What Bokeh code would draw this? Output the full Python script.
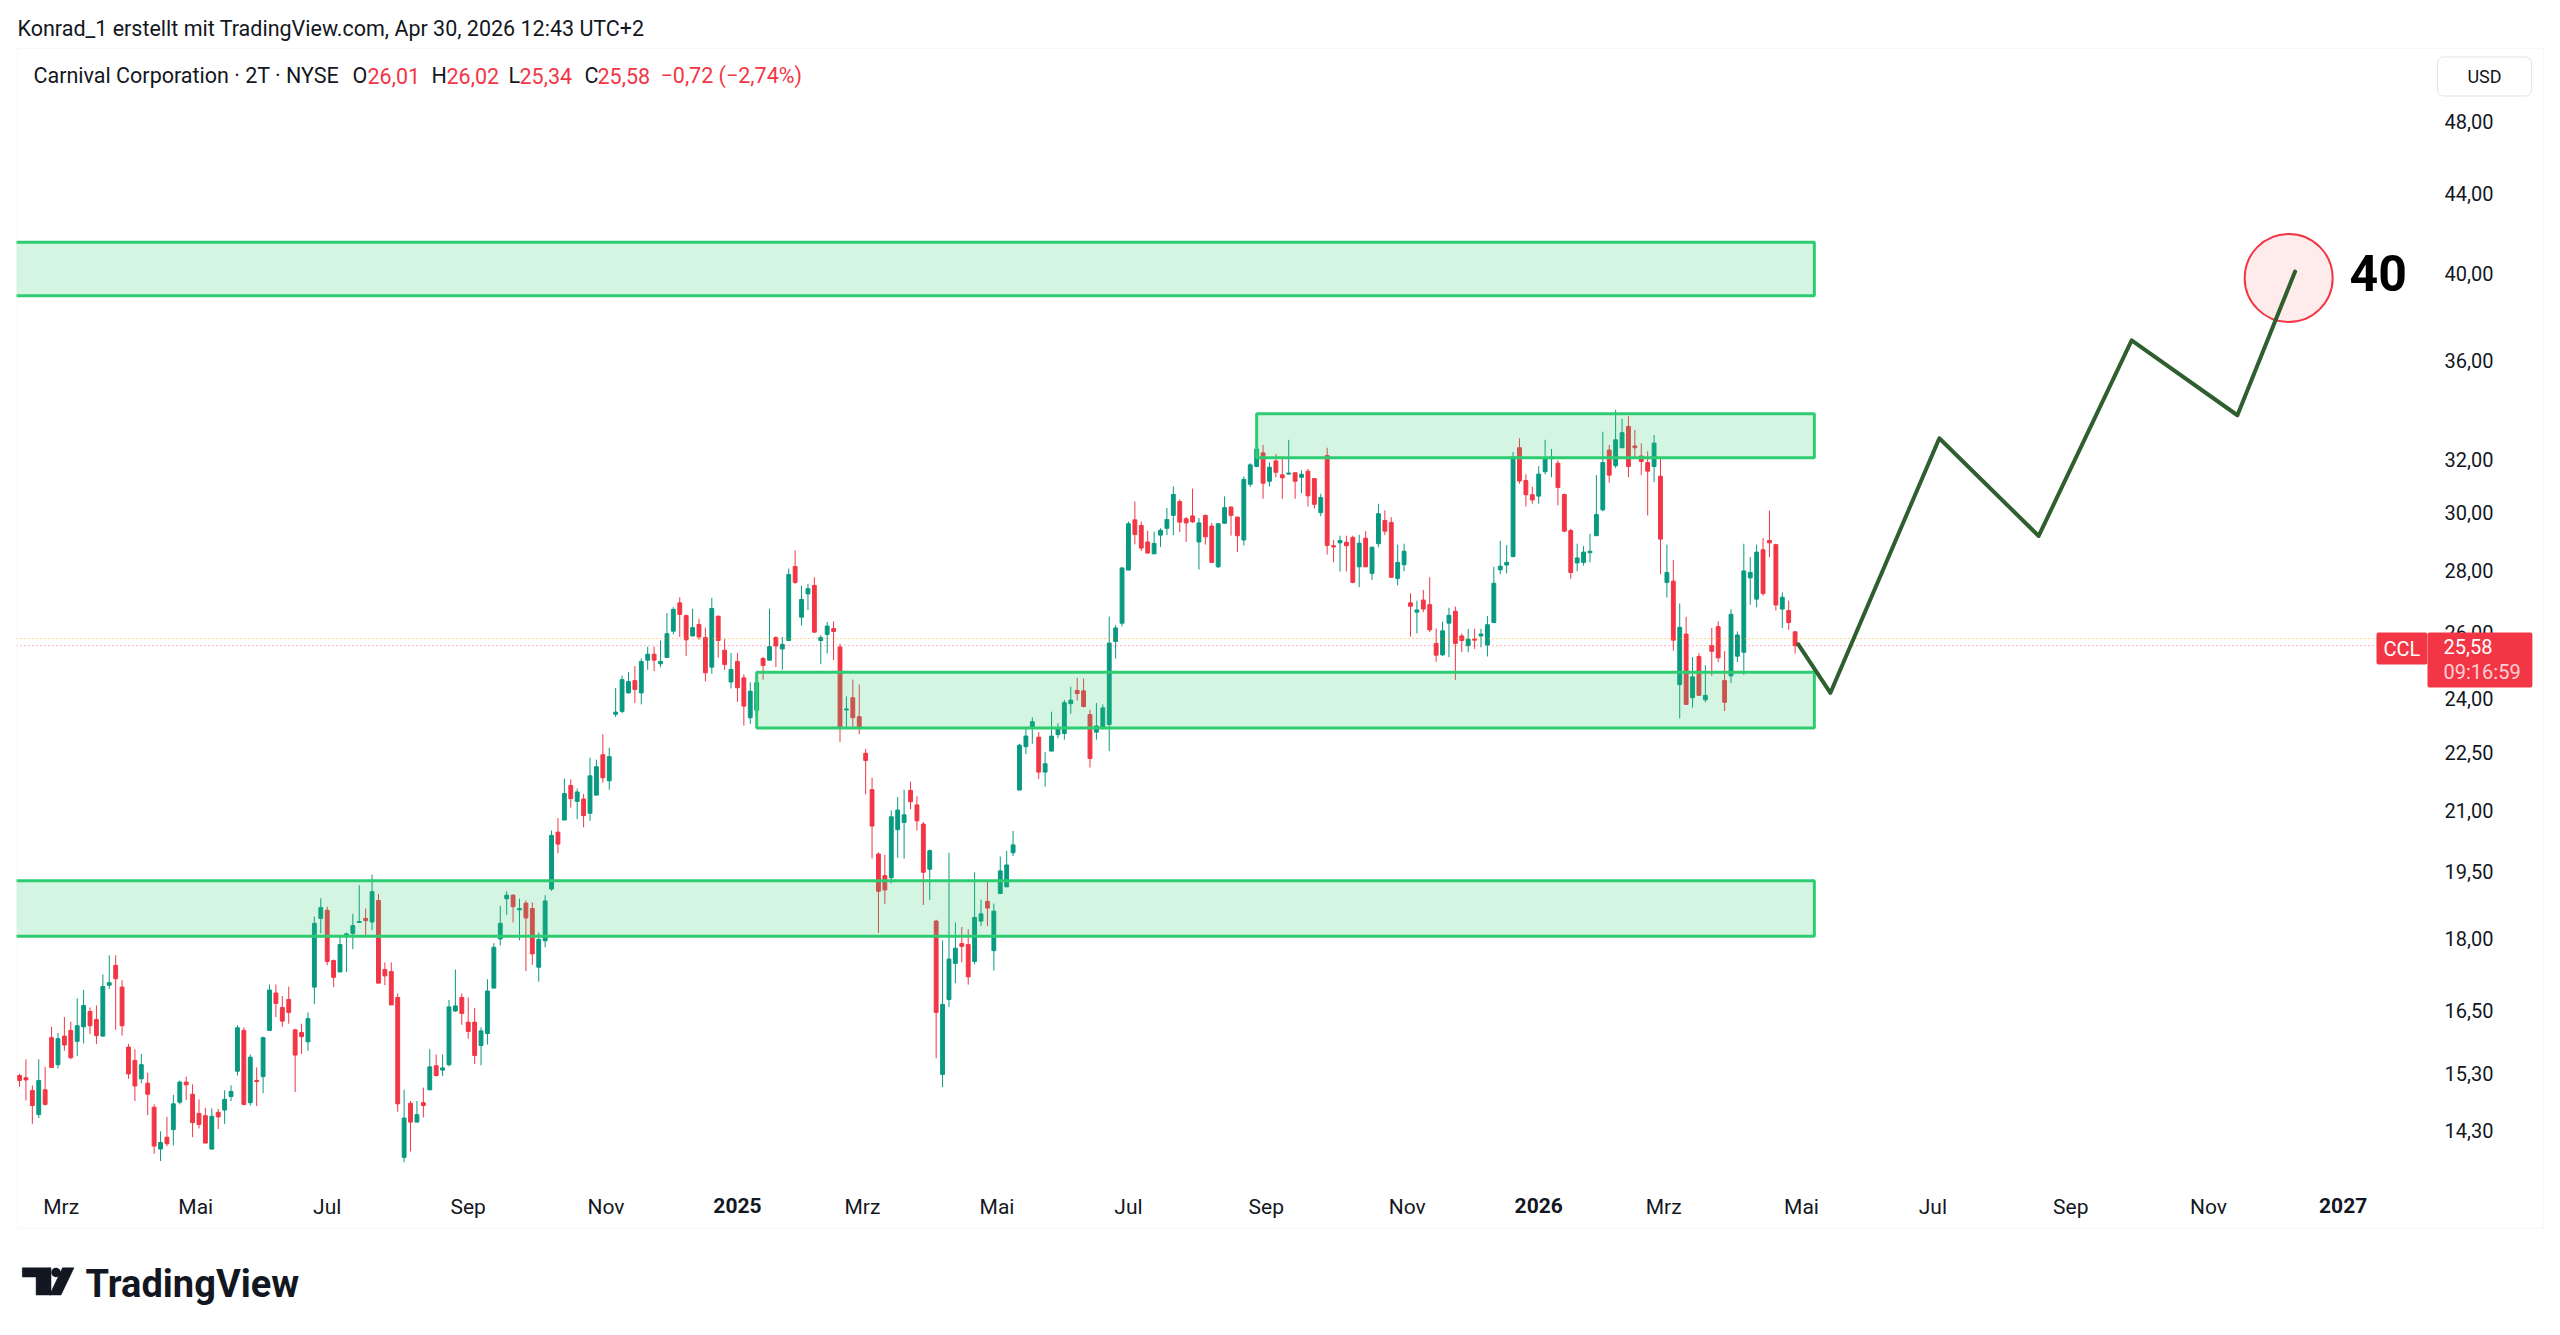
import numpy as np
import pandas as pd
from bokeh.plotting import figure
from bokeh.models import (Range1d, FixedTicker, CustomJSTickFormatter, Label,
                          BoxAnnotation, ColumnDataSource)
from bokeh.embed import file_html
from bokeh.resources import INLINE

# ---------------- data (2-day candles, CCL) ----------------
open_ = [15.27, 15.23, 15.00, 14.57, 15.01, 15.98, 15.47, 16.01, 16.12, 15.91,
         16.19, 16.49, 16.33, 16.01, 17.02, 17.43, 16.98, 15.80, 15.55, 15.21,
         15.13, 14.70, 13.98, 14.18, 14.31, 14.79, 15.15, 14.93, 14.59, 14.55,
         13.98, 14.61, 14.65, 14.89, 15.35, 16.12, 14.78, 15.18, 15.25, 16.12,
         16.86, 16.57, 16.73, 16.13, 16.08, 15.90, 16.98, 18.44, 18.62, 17.53,
         17.29, 18.07, 18.11, 18.35, 18.44, 18.36, 18.84, 17.34, 17.30, 16.77,
         13.84, 14.77, 14.44, 14.78, 15.01, 15.45, 15.37, 15.47, 16.50, 16.77,
         16.28, 16.28, 15.83, 16.06, 16.96, 17.99, 18.88, 18.96, 18.63, 18.78,
         18.66, 17.39, 17.95, 19.10, 20.45, 20.75, 21.63, 21.22, 21.28, 20.92,
         21.38, 22.44, 21.75, 23.56, 23.64, 24.17, 24.53, 24.17, 25.14, 25.32,
         25.03, 25.22, 26.03, 26.93, 26.52, 25.88, 26.24, 25.83, 24.93, 26.50,
         25.44, 24.49, 25.10, 24.61, 23.46, 23.67, 25.19, 25.14, 25.83, 25.48,
         25.74, 28.13, 26.47, 27.22, 27.50, 25.74, 25.93, 26.11, 25.54, 23.68,
         24.03, 23.49, 22.48, 21.52, 19.92, 19.41, 19.36, 20.51, 20.69, 21.50,
         21.13, 20.65, 19.56, 18.38, 15.29, 16.73, 17.47, 17.89, 17.87, 17.51,
         18.38, 18.82, 17.74, 19.00, 19.15, 19.95, 21.51, 22.66, 23.19, 22.92,
         21.98, 22.54, 22.99, 23.02, 23.86, 24.24, 24.23, 23.55, 23.06, 23.17,
         23.27, 25.71, 26.28, 28.01, 29.75, 29.55, 28.97, 28.56, 29.21, 29.45,
         29.91, 30.41, 29.79, 29.89, 28.97, 29.91, 29.53, 28.12, 29.63, 30.21,
         29.85, 29.04, 31.05, 31.72, 32.24, 31.16, 31.93, 31.40, 31.43, 31.48,
         31.31, 31.54, 31.26, 30.01, 32.14, 28.84, 28.94, 28.96, 29.13, 28.12,
         29.10, 27.90, 28.91, 29.73, 29.66, 27.73, 28.19, 26.93, 26.63, 27.02,
         26.87, 25.65, 25.30, 26.28, 26.66, 25.88, 25.58, 25.78, 25.88, 25.60,
         26.30, 28.02, 28.18, 28.47, 32.44, 31.19, 30.66, 30.61, 31.52, 32.01,
         31.84, 30.67, 29.37, 28.25, 28.27, 28.60, 29.19, 30.11, 32.35, 31.75,
         32.44, 33.28, 32.51, 32.12, 31.87, 31.72, 31.35, 27.60, 27.64, 24.41,
         25.94, 24.03, 25.25, 23.97, 25.58, 26.17, 24.53, 24.67, 25.26, 25.38,
         27.75, 27.05, 28.70, 29.02, 28.88, 26.73, 26.68, 26.01]
high = [15.30, 15.57, 15.09, 15.57, 15.43, 16.19, 16.07, 16.38, 16.29, 16.75,
        16.92, 16.57, 16.61, 17.24, 17.64, 17.64, 17.12, 15.86, 15.76, 15.67,
        15.32, 14.75, 14.28, 14.53, 14.92, 15.18, 15.25, 15.11, 14.84, 14.69,
        14.68, 14.67, 15.00, 15.09, 16.22, 16.18, 15.66, 15.42, 16.00, 17.03,
        17.03, 16.80, 16.99, 16.15, 16.25, 16.47, 18.48, 18.89, 18.70, 17.55,
        18.07, 18.13, 18.54, 19.19, 18.66, 19.43, 18.99, 17.49, 17.49, 16.85,
        15.01, 14.81, 14.81, 15.05, 15.76, 15.66, 15.66, 16.72, 17.34, 16.85,
        16.77, 16.56, 16.18, 17.14, 17.90, 18.72, 19.05, 18.98, 18.88, 18.84,
        18.80, 18.13, 18.96, 20.49, 20.80, 21.81, 21.79, 21.55, 21.41, 22.36,
        22.31, 23.00, 22.63, 24.31, 24.68, 24.78, 24.96, 25.19, 25.55, 25.55,
        25.74, 26.60, 26.79, 27.11, 26.56, 26.74, 26.42, 26.14, 27.09, 26.52,
        25.78, 25.36, 25.36, 24.71, 24.48, 24.59, 25.24, 26.74, 25.87, 25.85,
        28.06, 28.68, 27.49, 27.55, 27.77, 25.90, 26.32, 26.34, 25.64, 24.07,
        24.56, 24.42, 22.60, 21.83, 19.96, 19.90, 20.99, 21.33, 21.52, 21.73,
        21.35, 20.70, 20.03, 18.41, 17.96, 19.95, 18.35, 18.25, 18.20, 19.49,
        18.86, 19.30, 18.77, 19.86, 20.00, 20.48, 22.74, 23.20, 23.47, 23.06,
        22.52, 23.63, 23.31, 23.97, 24.35, 24.61, 24.59, 23.68, 23.88, 23.84,
        26.49, 26.22, 28.12, 29.69, 30.41, 29.69, 29.36, 29.33, 29.45, 30.18,
        30.97, 30.49, 29.85, 30.89, 29.82, 29.94, 29.64, 29.64, 30.60, 30.23,
        29.85, 31.34, 31.84, 32.75, 32.55, 31.87, 32.20, 32.01, 32.75, 31.48,
        31.57, 31.63, 31.26, 30.70, 32.44, 29.04, 29.19, 29.19, 29.19, 29.22,
        29.35, 28.79, 30.33, 30.09, 29.85, 28.88, 28.91, 27.24, 27.00, 27.35,
        27.77, 26.11, 26.33, 26.77, 26.81, 25.96, 26.10, 26.10, 26.10, 26.51,
        28.12, 29.01, 28.86, 32.27, 32.81, 31.42, 30.96, 31.73, 32.75, 32.39,
        31.95, 30.70, 29.43, 28.91, 28.83, 29.25, 31.39, 33.07, 32.55, 33.95,
        33.59, 33.69, 33.14, 32.61, 32.30, 32.94, 32.02, 28.88, 28.35, 26.91,
        26.48, 25.23, 25.35, 24.99, 26.13, 26.34, 25.41, 26.72, 26.02, 28.91,
        28.45, 28.88, 29.11, 30.08, 28.91, 27.27, 27.00, 26.02]
low = [15.07, 14.82, 14.41, 14.51, 14.73, 15.41, 15.40, 15.73, 15.57, 15.63,
       15.87, 16.05, 15.86, 16.00, 16.94, 16.13, 16.02, 15.21, 14.81, 15.13,
       14.56, 13.90, 13.78, 14.03, 14.04, 14.75, 14.83, 14.18, 14.33, 14.08,
       13.97, 14.32, 14.41, 14.81, 15.27, 14.73, 14.73, 14.72, 14.95, 16.12,
       16.38, 16.19, 16.25, 14.97, 15.67, 15.73, 16.64, 18.11, 17.43, 16.98,
       17.29, 17.29, 17.77, 18.35, 18.07, 18.18, 17.06, 17.02, 16.62, 14.62,
       13.76, 13.94, 14.44, 14.52, 15.01, 15.25, 15.26, 15.44, 16.48, 16.23,
       15.96, 15.48, 15.46, 15.85, 16.96, 17.85, 18.52, 18.35, 17.96, 17.31,
       17.44, 17.09, 17.81, 19.06, 19.94, 20.75, 21.06, 20.77, 20.57, 20.73,
       21.38, 21.70, 21.52, 23.48, 23.59, 24.15, 23.88, 23.84, 24.85, 24.81,
       24.93, 25.22, 25.93, 25.85, 25.27, 25.87, 25.76, 24.51, 24.73, 25.22,
       24.85, 24.30, 23.91, 23.24, 23.29, 23.65, 24.56, 25.12, 24.93, 24.85,
       25.74, 27.55, 26.21, 26.70, 25.97, 25.02, 25.34, 25.14, 22.79, 23.19,
       23.19, 23.00, 21.40, 19.81, 18.12, 18.76, 19.23, 19.83, 19.81, 21.02,
       20.49, 18.74, 18.85, 15.59, 15.06, 16.58, 17.06, 17.49, 17.03, 17.45,
       18.27, 18.27, 17.32, 19.00, 19.15, 19.87, 21.51, 22.46, 22.74, 21.80,
       21.60, 22.54, 22.89, 22.85, 23.57, 23.95, 23.75, 22.10, 22.85, 23.13,
       22.54, 25.19, 26.18, 28.01, 28.89, 28.66, 28.56, 28.56, 28.80, 29.21,
       29.21, 29.32, 28.97, 29.64, 28.03, 28.88, 28.26, 28.08, 29.61, 29.19,
       28.62, 28.85, 30.95, 31.69, 30.51, 30.97, 31.31, 30.51, 31.42, 30.51,
       30.72, 30.23, 30.15, 29.88, 28.54, 28.27, 27.96, 27.96, 27.57, 27.44,
       28.12, 27.68, 28.79, 29.21, 27.75, 27.50, 27.97, 25.86, 25.96, 26.63,
       26.00, 25.09, 25.26, 25.23, 24.55, 25.38, 25.38, 25.48, 25.53, 25.25,
       26.30, 27.87, 27.90, 28.44, 31.07, 30.23, 30.33, 30.33, 31.42, 31.31,
       30.27, 29.31, 27.72, 27.97, 28.16, 28.27, 29.19, 30.06, 31.11, 31.66,
       32.44, 31.31, 32.01, 31.39, 29.91, 31.13, 27.87, 27.10, 25.43, 23.44,
       23.84, 23.75, 24.10, 23.90, 24.67, 25.08, 23.65, 24.46, 25.08, 24.70,
       26.87, 26.79, 27.16, 28.45, 26.68, 26.13, 26.07, 25.34]
close = [15.18, 15.19, 14.73, 15.18, 14.75, 15.42, 15.96, 15.84, 15.60, 16.21,
         16.61, 16.21, 16.02, 16.99, 17.07, 17.15, 16.21, 15.30, 15.08, 15.47,
         14.93, 14.03, 14.09, 14.07, 14.76, 15.15, 15.10, 14.43, 14.40, 14.08,
         14.54, 14.53, 14.84, 14.98, 16.17, 14.75, 15.61, 15.16, 15.98, 16.92,
         16.65, 16.30, 16.47, 15.65, 16.00, 16.35, 18.33, 18.68, 17.51, 17.18,
         17.87, 18.10, 18.28, 18.37, 18.39, 19.04, 17.06, 17.21, 16.62, 14.76,
         14.51, 14.44, 14.57, 14.73, 15.43, 15.27, 15.41, 16.58, 16.60, 16.45,
         16.10, 15.64, 16.11, 16.90, 17.81, 18.33, 18.96, 18.70, 18.66, 18.45,
         17.67, 17.98, 18.83, 20.37, 20.16, 21.42, 21.29, 21.46, 20.86, 21.88,
         22.12, 21.83, 22.39, 23.62, 24.56, 24.50, 24.27, 25.10, 25.32, 25.14,
         25.10, 25.95, 26.72, 26.56, 25.76, 26.14, 25.85, 24.76, 26.75, 25.74,
         25.01, 24.86, 24.32, 23.79, 24.22, 24.47, 24.98, 25.55, 25.57, 25.62,
         27.86, 27.60, 27.04, 27.39, 26.00, 25.83, 26.19, 26.02, 23.17, 23.71,
         23.46, 23.18, 22.29, 20.60, 19.05, 19.08, 20.83, 21.00, 20.88, 21.21,
         20.73, 19.49, 20.00, 16.47, 16.63, 17.56, 17.79, 17.83, 17.19, 18.46,
         18.54, 18.67, 18.60, 19.52, 19.66, 20.14, 22.70, 22.95, 23.35, 21.98,
         22.20, 22.95, 23.17, 23.89, 23.96, 24.15, 23.78, 22.34, 23.23, 23.74,
         25.66, 26.13, 28.08, 29.61, 29.23, 28.76, 28.59, 28.92, 29.38, 29.76,
         30.67, 29.67, 29.64, 29.68, 29.64, 29.15, 28.27, 29.61, 30.19, 29.91,
         29.19, 31.23, 31.78, 32.39, 31.09, 31.69, 31.50, 31.29, 31.47, 31.16,
         31.42, 30.62, 30.31, 30.56, 28.85, 28.80, 29.02, 28.84, 27.60, 28.93,
         28.12, 28.79, 29.97, 29.35, 27.77, 28.27, 28.65, 26.82, 26.70, 26.73,
         26.07, 25.29, 26.04, 26.53, 25.65, 25.74, 25.78, 25.75, 25.94, 26.23,
         27.57, 28.14, 28.27, 32.09, 31.17, 30.66, 30.47, 31.43, 32.05, 32.08,
         30.93, 29.35, 27.93, 28.42, 28.62, 28.65, 29.94, 31.87, 31.39, 32.75,
         33.03, 31.72, 32.44, 31.91, 31.54, 32.62, 29.07, 27.93, 25.75, 26.15,
         23.84, 24.64, 24.10, 24.10, 25.41, 25.21, 23.90, 26.56, 25.91, 27.98,
         27.93, 28.62, 27.23, 28.94, 26.86, 27.11, 26.30, 25.58]

last_bar_start = "2026-04-29"
nyse_holidays = ["2023-11-23", "2023-12-25",
                 "2024-01-01", "2024-01-15", "2024-02-19", "2024-03-29", "2024-05-27",
                 "2024-06-19", "2024-07-04", "2024-09-02", "2024-11-28", "2024-12-25",
                 "2025-01-01", "2025-01-09", "2025-01-20", "2025-02-17", "2025-04-18",
                 "2025-05-26", "2025-06-19", "2025-07-04", "2025-09-01", "2025-11-27",
                 "2025-12-25",
                 "2026-01-01", "2026-01-19", "2026-02-16", "2026-04-03", "2026-05-25",
                 "2026-06-19", "2026-07-03", "2026-09-07", "2026-11-26", "2026-12-25",
                 "2027-01-01", "2027-01-18", "2027-02-15"]

tick_months = ["2024-03-01", "2024-05-01", "2024-07-01", "2024-09-01", "2024-11-01",
               "2025-01-01", "2025-03-01", "2025-05-01", "2025-07-01", "2025-09-01",
               "2025-11-01", "2026-01-01", "2026-03-01", "2026-05-01", "2026-07-01",
               "2026-09-01", "2026-11-01", "2027-01-01"]
tick_labels = ["Mrz", "Mai", "Jul", "Sep", "Nov", "2025", "Mrz", "Mai", "Jul", "Sep",
               "Nov", "2026", "Mrz", "Mai", "Jul", "Sep", "Nov", "2027"]
price_ticks = [14.3, 15.3, 16.5, 18.0, 19.5, 21.0, 22.5, 24.0, 26.0, 28.0, 30.0,
               32.0, 36.0, 40.0, 44.0, 48.0]

zone_start = ["2023-12-01", "2025-08-27", "2025-01-13", "2023-12-01"]
zone_end = ["2026-05-07", "2026-05-07", "2026-05-07", "2026-05-07"]
zone_top = [41.52, 33.79, 24.78, 19.29]
zone_bottom = [38.93, 32.05, 23.17, 18.05]

path_dates = ["2026-04-30", "2026-05-14", "2026-07-06", "2026-08-18",
              "2026-09-29", "2026-11-13", "2026-12-10"]
path_prices = [25.62, 24.17, 32.81, 29.18, 36.90, 33.73, 40.08]
target_date = ["2026-12-08"]
target_price = [39.77]
target_text_date = "2027-01-06"
target_text = "40"

last_price = 25.58
ext_price = 25.80
countdown = "09:16:59"

# ---------------- trading-day time scale ----------------
tdays = pd.bdate_range("2023-11-01", "2027-03-31", freq="C", holidays=nyse_holidays)
N = len(close)
k_last = tdays.get_loc(pd.Timestamp(last_bar_start))
k_first = k_last - 2 * (N - 1)


def xpos(d):
    k = tdays.searchsorted(pd.Timestamp(d))
    return (k - k_first) / 2.0


x = np.arange(N)
o = np.array(open_); c = np.array(close); h = np.array(high); l = np.array(low)
GREEN, RED = "#089981", "#f23645"
col = np.where(c >= o, GREEN, RED)
src = ColumnDataSource(dict(x=x, o=o, c=c, h=h, l=l, top=np.maximum(o, c),
                            bot=np.minimum(o, c), col=col))

# ---------------- geometry ----------------
W, H = 2560, 1335
PL, PR, PT, PB = 16, 2426, 49, 1182          # price pane (canvas px)
FL, FR, FT, FB = 16, W, 0, H                 # drawing frame (canvas px)
x0p, x1p = -0.47, 375.5                      # bar-index range of the price pane
y0p, y1p = 13.43, 52.32                      # price range of the price pane
dx = (x1p - x0p) / (PR - PL)
ly0, ly1 = np.log(y0p), np.log(y1p)
dl = (ly1 - ly0) / (PB - PT)
x_range = Range1d(x0p, x1p + (FR - PR) * dx)
y_range = Range1d(float(np.exp(ly0 - (FB - PB) * dl)), float(np.exp(ly1 + (PT - FT) * dl)))

FONT = "Roboto"
TXT = "#131722"

p = figure(width=W, height=H, output_backend="svg", toolbar_location=None,
           x_range=x_range, y_range=y_range,
           y_axis_type="log", y_axis_location="right",
           min_border_left=FL, min_border_right=0, min_border_top=0, min_border_bottom=0,
           background_fill_color="white", border_fill_color="white",
           outline_line_color=None)
p.title.visible = False
p.grid.visible = False

# axes placed at the edges of the price pane
tick_pos = [xpos(m) for m in tick_months]
axis_labs = ["" if t.isdigit() else t for t in tick_labels]
p.xaxis.ticker = FixedTicker(ticks=tick_pos)
p.xaxis.formatter = CustomJSTickFormatter(
    args=dict(pos=tick_pos, labs=axis_labs),
    code="const i = pos.findIndex(v => Math.abs(v - tick) < 1e-6); return i < 0 ? '' : labs[i];")
p.yaxis.ticker = FixedTicker(ticks=price_ticks)
p.yaxis.formatter = CustomJSTickFormatter(code="return tick.toFixed(2).replace('.', ',');")
p.xaxis.fixed_location = y0p
p.yaxis.fixed_location = x1p
for ax in (p.xaxis, p.yaxis):
    ax.axis_line_color = None
    ax.major_tick_line_color = None
    ax.minor_tick_line_color = None
    ax.major_tick_out = 0
    ax.major_tick_in = 0
    ax.minor_tick_out = 0
    ax.major_label_text_font = FONT
    ax.major_label_text_color = TXT
p.xaxis.major_label_text_font_size = "21px"
p.yaxis.major_label_text_font_size = "20px"
p.xaxis.major_label_standoff = 12
p.yaxis.major_label_standoff = 18


def scr(cx, cy):
    return cx - FL, FB - cy


def to_data(cx, cy):
    return x0p + (cx - PL) * dx, float(np.exp(ly1 - (cy - PT) * dl))


# year labels in bold
for t, pos in zip(tick_labels, tick_pos):
    if t.isdigit():
        p.add_layout(Label(x=pos, y=scr(0, 1205)[1], x_units="data", y_units="screen", text=t,
                           text_font=FONT, text_font_size="21px", text_font_style="bold",
                           text_color=TXT, text_align="center", text_baseline="middle"))

# candles
p.segment(x0="x", y0="h", x1="x", y1="l", source=src, line_color="col", line_width=1)
p.vbar(x="x", width=0.6, top="top", bottom="bot", source=src,
       fill_color="col", line_color="col", line_width=1)

# zones
p.quad(left=[xpos(d) for d in zone_start], right=[xpos(d) for d in zone_end],
       top=zone_top, bottom=zone_bottom, fill_color="#2ecc71", fill_alpha=0.2,
       line_color="#2ecc71", line_width=3)

# price lines across the price pane
p.line(x=[x0p, x1p], y=[ext_price, ext_price], line_color="#ff9800",
       line_dash="1 3", line_width=1, line_alpha=0.9)
p.line(x=[x0p, x1p], y=[last_price, last_price], line_color=RED,
       line_dash="1 3", line_width=1, line_alpha=0.7)

# forecast path and target
p.scatter(x=[xpos(d) for d in target_date], y=target_price, size=88, marker="circle",
          fill_color=RED, fill_alpha=0.1, line_color=RED, line_width=2)
p.line(x=[xpos(d) for d in path_dates], y=path_prices, line_color="#2f5f2f",
       line_width=4, line_join="round", line_cap="round")
p.add_layout(Label(x=xpos(target_text_date), y=40.0, text=target_text, text_font=FONT,
                   text_font_size="50px", text_font_style="bold", text_color="#000000",
                   text_align="left", text_baseline="middle"))

# header text
hx, hy = scr(17, 28)
p.add_layout(Label(x=hx, y=hy, x_units="screen", y_units="screen",
                   text="Konrad_1 erstellt mit TradingView.com, Apr 30, 2026 12:43 UTC+2",
                   text_font=FONT, text_font_size="21.5px", text_color=TXT,
                   text_baseline="middle", text_align="left"))

# legend line
fmt = lambda v: f"{v:.2f}".replace(".", ",")
chg = close[-1] - close[-2]
pct = chg / close[-2] * 100
sgn = "\u2212" if chg < 0 else "+"
legend_parts = [("Carnival Corporation \u00b7 2T \u00b7 NYSE", 33, TXT),
                ("O", 352, TXT), (fmt(open_[-1]), 367, RED),
                ("H", 431, TXT), (fmt(high[-1]), 446, RED),
                ("L", 508, TXT), (fmt(low[-1]), 519, RED),
                ("C", 584, TXT), (fmt(close[-1]), 597, RED),
                (f"{sgn}{fmt(abs(chg))} ({sgn}{fmt(abs(pct))}%)", 660, RED)]
for txt, cx, colr in legend_parts:
    lx, ly = scr(cx, 75)
    p.add_layout(Label(x=lx, y=ly, x_units="screen", y_units="screen", text=txt,
                       text_font=FONT, text_font_size="21.5px", text_color=colr,
                       text_baseline="middle", text_align="left"))

# USD box
ux, uy = scr(2484, 76)
p.add_layout(Label(x=ux, y=uy, x_units="screen", y_units="screen", text="USD",
                   text_font=FONT, text_font_size="18px", text_color=TXT,
                   text_align="center", text_baseline="middle",
                   background_fill_color="white", border_line_color="#e0e3eb",
                   border_line_width=1, border_radius=6, padding=(30, 9)))

# CCL tag and price tag
cx0, cy0 = scr(2376, 632)
p.add_layout(Label(x=cx0, y=cy0, x_units="screen", y_units="screen", text="CCL",
                   text_font=FONT, text_font_size="20px", text_color="white",
                   text_align="left", text_baseline="top",
                   background_fill_color=RED, padding=(7, 4), border_radius=2))
px0, py0 = scr(2427, 632)
p.add_layout(Label(x=px0, y=py0, x_units="screen", y_units="screen", text=fmt(last_price),
                   text_font=FONT, text_font_size="20px", text_color="white",
                   text_align="left", text_baseline="top",
                   background_fill_color=RED, padding=(16, 40, 6, 34), border_radius=2))
tx, ty = scr(2443, 671)
p.add_layout(Label(x=tx, y=ty, x_units="screen", y_units="screen", text=countdown,
                   text_font=FONT, text_font_size="20px", text_color="#fbd0d5",
                   text_align="left", text_baseline="middle"))

# chart panel border
bl, bt = scr(16.5, 48)
br, bb = scr(2543, 1228)
p.add_layout(BoxAnnotation(left=bl, right=br, top=bt, bottom=bb,
                           left_units="screen", right_units="screen",
                           top_units="screen", bottom_units="screen",
                           fill_alpha=0, line_color="#e0e3eb", line_width=1))

# TradingView logo (decoration) and wordmark
logo_a = [to_data(*pt) for pt in [(21.8, 1267.3), (50.5, 1267.3), (50.5, 1294.5),
                                  (35.6, 1294.5), (35.6, 1276.5), (21.8, 1276.5)]]
logo_c = [to_data(*pt) for pt in [(49.0, 1294.5), (60.5, 1294.5), (73.5, 1267.3), (62.0, 1267.3)]]
p.patch(x=[q[0] for q in logo_a], y=[q[1] for q in logo_a], fill_color=TXT, line_color=TXT,
        line_width=0.5)
p.patch(x=[q[0] for q in logo_c], y=[q[1] for q in logo_c], fill_color=TXT, line_color=TXT,
        line_width=0.5)
dot = to_data(55.5, 1272.0)
p.scatter(x=[dot[0]], y=[dot[1]], size=9.5, marker="circle", fill_color=TXT, line_color=None)
wx, wy = scr(85, 1283)
p.add_layout(Label(x=wx, y=wy, x_units="screen", y_units="screen", text="TradingView",
                   text_font=FONT, text_font_size="38px", text_font_style="bold",
                   text_color=TXT, text_baseline="middle", text_align="left"))

open("out.html", "w").write(file_html(p, INLINE))
